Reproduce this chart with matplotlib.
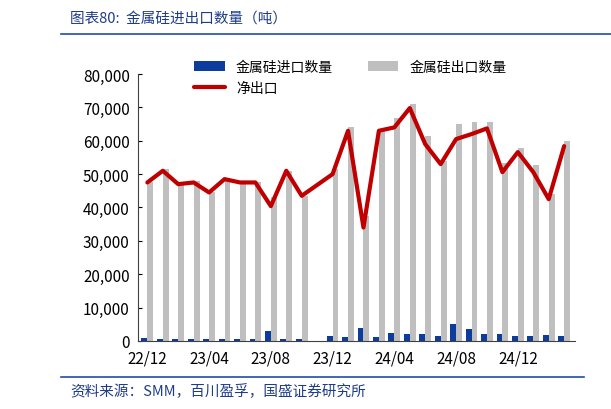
import numpy as np
import matplotlib.pyplot as plt
from matplotlib.lines import Line2D

plt.rcParams['font.family'] = ['Noto Sans CJK SC', 'DejaVu Sans']

months = ['22/12', '23/01', '23/02', '23/03', '23/04', '23/05', '23/06', '23/07', '23/08',
          '23/09', '23/10', '23/11', '23/12', '24/01', '24/02', '24/03', '24/04', '24/05',
          '24/06', '24/07', '24/08', '24/09', '24/10', '24/11', '24/12', '25/01', '25/02', '25/03']
imports = [1000, 500, 500, 500, 500, 500, 500, 500, 3000, 500, 500, np.nan, 1500, 1200,
           4000, 1200, 2500, 2200, 2000, 1500, 5200, 3500, 2000, 2200, 1500, 1600, 1900, 1600]
exports = [47500, 51500, 47300, 48000, 44600, 48800, 48000, 47600, 43000, 51000, 43500, np.nan,
           51500, 64000, 37500, 63500, 66800, 71000, 61400, 54000, 65000, 65500, 65500, 53300,
           57800, 52700, 44000, 60000]
net = [47500, 51000, 47000, 47500, 44500, 48500, 47500, 47500, 40400, 51000, 43500, np.nan,
       50000, 63000, 34000, 63000, 64000, 69800, 59000, 53000, 60500, 62000, 63700, 50600,
       56600, 50600, 42500, 58400]

x = np.arange(len(months))
imports = np.array(imports)
exports = np.array(exports)
net = np.array(net)

fig = plt.figure(figsize=(6.11, 4.1), dpi=100)
ax = fig.add_axes([0.226, 0.166, 0.715, 0.651])

w = 0.38
b1 = ax.bar(x - w / 2, imports, w, color='#0c3d9c', label='金属硅进口数量')
b2 = ax.bar(x + w / 2, exports, w, color='#bfbfbf', label='金属硅出口数量')
ok = ~np.isnan(net)
l1, = ax.plot(x[ok], net[ok], color='#c00000', lw=3, label='净出口', solid_capstyle='round')

ax.set_xlim(-0.6, len(months) - 0.3)
ax.set_ylim(0, 80000)
ax.set_yticks(range(0, 80001, 10000))
ax.set_yticklabels([f'{v:,}' for v in range(0, 80001, 10000)], fontsize=11)
ax.set_xticks(x[::4])
ax.set_xticklabels(months[::4], fontsize=11)
ax.tick_params(axis='x', length=0, pad=6)
ax.tick_params(axis='y', direction='in', length=3, pad=6)
for s in ['top', 'right']:
    ax.spines[s].set_visible(False)
for s in ['left', 'bottom']:
    ax.spines[s].set_color('#404040')

ax.legend([b1, l1, b2], ['金属硅进口数量', '净出口', '金属硅出口数量'], ncol=2,
          loc='upper left', bbox_to_anchor=(0.1, 1.1), frameon=False, fontsize=10,
          handlelength=2.2, columnspacing=2.5)

fig.text(0.115, 0.955, '图表80:  金属硅进出口数量（吨）', fontsize=10.5, style='italic',
         color='#1f3c88', va='center')
fig.add_artist(Line2D([0.1, 1.0], [0.915, 0.915], color='#1f4ea8', lw=1.2))
fig.add_artist(Line2D([0.1, 0.955], [0.078, 0.078], color='#1f4ea8', lw=1.2))
fig.text(0.115, 0.045, '资料来源：SMM，百川盈孚，国盛证券研究所', fontsize=10.5, style='italic',
         color='#1f3c88', va='center')

fig.savefig('out.png', dpi=100)
